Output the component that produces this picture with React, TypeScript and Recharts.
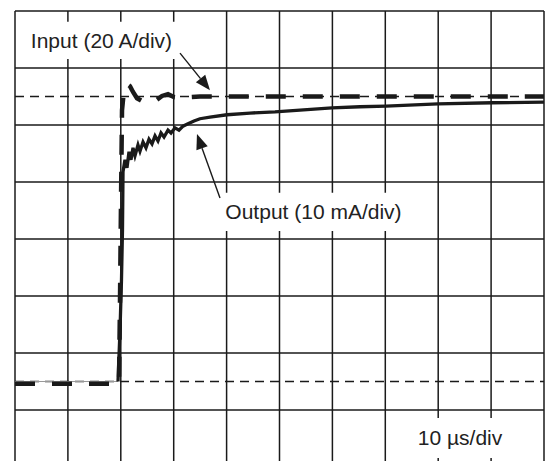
import {
  CartesianGrid,
  Line,
  LineChart,
  ReferenceArea,
  ReferenceLine,
  XAxis,
  YAxis,
} from "recharts";

// time in µs (10 µs/div), level in divisions from the bottom of the screen
const inputTime = [
  0, 19.66, 19.85, 20.04, 20.23, 20.6, 21.17, 21.74, 22.31, 23.06, 24.01,
  25.14, 26.47, 27.79, 28.92, 30.06, 31.57, 33.08, 34.97, 100,
];
const inputLevel = [
  1.46, 1.46, 2.93, 4.68, 6.26, 6.61, 6.72, 6.68, 6.58, 6.47, 6.42, 6.39,
  6.42, 6.51, 6.54, 6.49, 6.47, 6.49, 6.5, 6.5,
];

const outputTime = [
  0, 19.47, 19.85, 20.13, 20.32, 20.42, 20.79, 21.17, 21.55, 21.93, 22.31,
  22.68, 23.25, 23.63, 24.2, 24.76, 25.33, 25.9, 26.47, 27.03, 27.6, 28.17,
  28.92, 29.49, 30.25, 31.0, 31.76, 32.7, 33.84, 34.97, 36.86, 40.08, 44.42,
  49.15, 53.88, 59.92, 65.22, 70.13, 79.96, 90.17, 100,
];
const outputLevel = [
  1.5, 1.5, 2.4, 3.28, 4.16, 5.18, 5.39, 5.25, 5.53, 5.39, 5.6, 5.46, 5.65,
  5.54, 5.7, 5.6, 5.75, 5.67, 5.81, 5.72, 5.86, 5.79, 5.91, 5.86, 5.95, 5.91,
  5.98, 6.02, 6.07, 6.11, 6.14, 6.18, 6.21, 6.23, 6.26, 6.3, 6.32, 6.33, 6.37,
  6.39, 6.4,
];

const timeTicks = [0, 10, 20, 30, 40, 50, 60, 70, 80, 90, 100];
const divTicks = [0, 1, 2, 3, 4, 5, 6, 7, 8];
const levelMarks = [1.5, 6.5];

const inputData = inputTime.map((t, i) => ({ t, v: inputLevel[i] }));
const outputData = outputTime.map((t, i) => ({ t, v: outputLevel[i] }));
// the flat pre-step part of the output trace is faint on the scope
const outputIdle = outputData.slice(0, 2);
const outputStep = outputData.slice(1);

const INK = "#1a1a1a";
const FONT = "'Liberation Sans', Arial, sans-serif";

function Arrow(props: any) {
  const { x1, y1, x2, y2 } = props;
  const ang = Math.atan2(y2 - y1, x2 - x1);
  const len = 15;
  const half = 6;
  const bx = x2 - len * Math.cos(ang);
  const by = y2 - len * Math.sin(ang);
  const px = -Math.sin(ang) * half;
  const py = Math.cos(ang) * half;
  return (
    <g>
      <line x1={x1} y1={y1} x2={bx} y2={by} stroke={INK} strokeWidth={1.4} />
      <polygon
        points={`${x2},${y2} ${bx + px},${by + py} ${bx - px},${by - py}`}
        fill={INK}
      />
    </g>
  );
}

const labelStyle = { fontSize: 21, fill: "#222", fontFamily: FONT };

export default function App() {
  return (
    <div
      style={{
        position: "absolute",
        left: 0,
        top: 0,
        width: 550,
        height: 461,
        overflow: "hidden",
        background: "#fff",
      }}
    >
      <LineChart
        width={550}
        height={470}
        margin={{ top: 11, right: 6, left: 15, bottom: 3 }}
      >
        <CartesianGrid stroke={INK} strokeWidth={1.5} />
        <XAxis
          type="number"
          dataKey="t"
          domain={[0, 100]}
          ticks={timeTicks}
          hide
        />
        <YAxis type="number" domain={[0, 8]} ticks={divTicks} hide />

        {levelMarks.map((y) => (
          <ReferenceLine
            key={y}
            y={y}
            stroke={INK}
            strokeWidth={1.5}
            strokeDasharray="9 6"
          />
        ))}

        <ReferenceArea
          x1={1.89}
          x2={30.81}
          y1={7.16}
          y2={7.81}
          fill="#fff"
          fillOpacity={1}
          stroke="none"
          label={{ value: "Input (20 A/div)", position: "center", ...labelStyle }}
        />
        <ReferenceArea
          x1={38.75}
          x2={74.1}
          y1={4.14}
          y2={4.81}
          fill="#fff"
          fillOpacity={1}
          stroke="none"
          label={{ value: "Output (10 mA/div)", position: "center", ...labelStyle }}
        />
        <ReferenceArea
          x1={74.67}
          x2={93.57}
          y1={0.16}
          y2={0.86}
          fill="#fff"
          fillOpacity={1}
          stroke="none"
          label={{ value: "10 µs/div", position: "center", ...labelStyle }}
        />

        <ReferenceLine
          segment={[
            { x: 31.19, y: 7.26 },
            { x: 36.86, y: 6.61 },
          ]}
          shape={Arrow}
        />
        <ReferenceLine
          segment={[
            { x: 38.75, y: 4.72 },
            { x: 34.4, y: 5.84 },
          ]}
          shape={Arrow}
        />

        <Line
          data={outputIdle}
          dataKey="v"
          type="linear"
          stroke="#999"
          strokeWidth={1}
          dot={false}
          isAnimationActive={false}
        />
        <Line
          data={outputStep}
          dataKey="v"
          type="linear"
          stroke={INK}
          strokeWidth={3.3}
          dot={false}
          isAnimationActive={false}
        />
        <Line
          data={inputData}
          dataKey="v"
          type="linear"
          stroke={INK}
          strokeWidth={4.5}
          strokeDasharray="20 17"
          dot={false}
          isAnimationActive={false}
        />
      </LineChart>
    </div>
  );
}
